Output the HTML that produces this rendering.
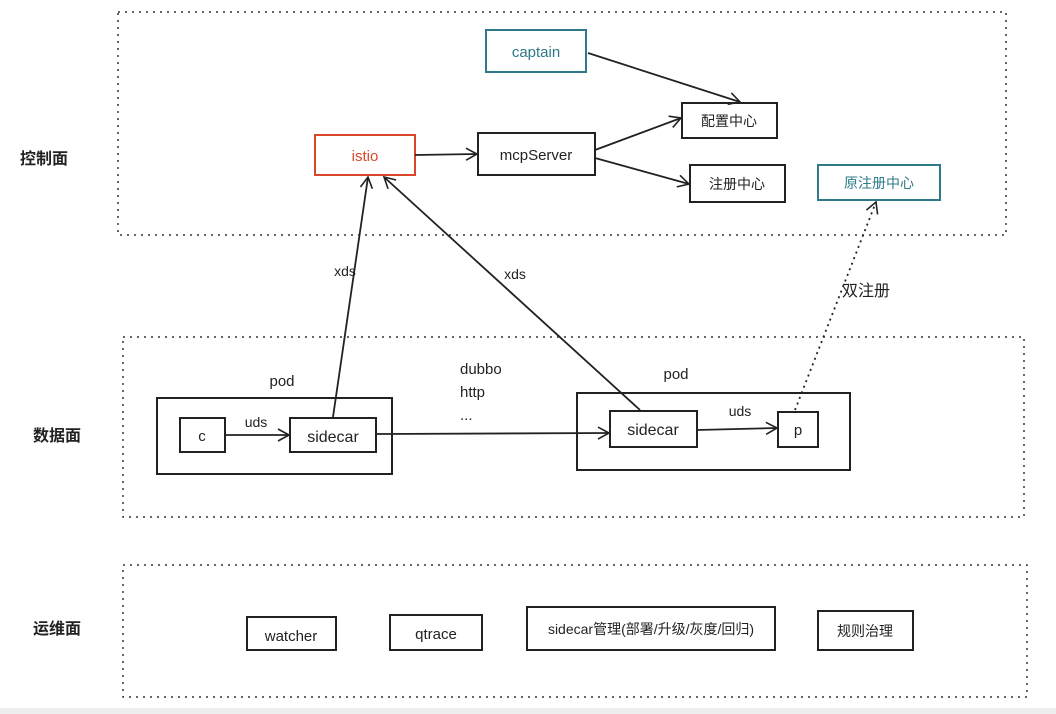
<!DOCTYPE html>
<html><head><meta charset="utf-8"><style>
html,body{margin:0;padding:0;background:#fff;}
svg{display:block;}
text{font-family:"Liberation Sans","Noto Sans CJK SC",sans-serif;}
</style></head><body>
<svg width="1056" height="714" viewBox="0 0 1056 714" xmlns="http://www.w3.org/2000/svg">
<defs>
<marker id="a" markerWidth="14" markerHeight="14" refX="12" refY="7" orient="auto" markerUnits="userSpaceOnUse">
<path d="M1,1 L12,7 L1,13" fill="none" stroke="#222" stroke-width="1.6"/>
</marker>
</defs>
<rect x="0" y="0" width="1056" height="714" fill="#fff"/>
<rect x="0" y="708" width="1056" height="6" fill="#eee"/>
<g fill="none" stroke="#333" stroke-width="1.5" stroke-dasharray="2,5">
<rect x="118" y="12" width="888" height="223"/>
<rect x="123" y="337" width="901" height="180"/>
<rect x="123" y="565" width="904" height="132"/>
</g>
<g font-size="16" fill="#222" font-weight="bold">
<text x="20" y="164">控制面</text>
<text x="33" y="441">数据面</text>
<text x="33" y="634">运维面</text>
</g>
<g fill="none" stroke-width="2">
<rect x="486" y="30" width="100" height="42" stroke="#2e7a8a"/>
<rect x="315" y="135" width="100" height="40" stroke="#d9472b"/>
<rect x="818" y="165" width="122" height="35" stroke="#2e7a8a"/>
<g stroke="#222">
<rect x="478" y="133" width="117" height="42"/>
<rect x="682" y="103" width="95" height="35"/>
<rect x="690" y="165" width="95" height="37"/>
<rect x="157" y="398" width="235" height="76"/>
<rect x="180" y="418" width="45" height="34"/>
<rect x="290" y="418" width="86" height="34"/>
<rect x="577" y="393" width="273" height="77"/>
<rect x="610" y="411" width="87" height="36"/>
<rect x="778" y="412" width="40" height="35"/>
<rect x="247" y="617" width="89" height="33"/>
<rect x="390" y="615" width="92" height="35"/>
<rect x="527" y="607" width="248" height="43"/>
<rect x="818" y="611" width="95" height="39"/>
</g>
</g>
<g stroke="#222" stroke-width="1.8" fill="none" marker-end="url(#a)">
<line x1="415" y1="155" x2="477" y2="154"/>
<line x1="595" y1="150" x2="681" y2="118"/>
<line x1="595" y1="158" x2="689" y2="184"/>
<line x1="588" y1="53" x2="740" y2="102"/>
<line x1="333" y1="417" x2="368" y2="177"/>
<line x1="640" y1="410" x2="384" y2="177"/>
<line x1="376" y1="434" x2="609" y2="433"/>
<line x1="225" y1="435" x2="289" y2="435"/>
<line x1="697" y1="430" x2="777" y2="428"/>
<line x1="795" y1="410" x2="876" y2="202" stroke-dasharray="2,4"/>
</g>
<g font-size="15" text-anchor="middle" fill="#222">
<text x="536" y="57" fill="#2e7a8a">captain</text>
<text x="365" y="161" fill="#d9472b">istio</text>
<text x="879" y="188" fill="#2e7a8a" font-size="14">原注册中心</text>
<text x="536" y="160">mcpServer</text>
<text x="729" y="126" font-size="14">配置中心</text>
<text x="737" y="189" font-size="14">注册中心</text>
<text x="202" y="441">c</text>
<text x="333" y="442" font-size="16">sidecar</text>
<text x="653" y="435" font-size="16">sidecar</text>
<text x="798" y="435">p</text>
<text x="291" y="641">watcher</text>
<text x="436" y="639">qtrace</text>
<text x="651" y="634" font-size="14">sidecar管理(部署/升级/灰度/回归)</text>
<text x="865" y="636" font-size="14">规则治理</text>
<text x="282" y="386">pod</text>
<text x="676" y="379">pod</text>
<text x="256" y="427" font-size="14">uds</text>
<text x="740" y="416" font-size="14">uds</text>
<text x="345" y="276" font-size="14">xds</text>
<text x="515" y="279" font-size="14">xds</text>
<text x="866" y="296" font-size="16">双注册</text>
</g>
<g font-size="15" fill="#222">
<text x="460" y="374">dubbo</text>
<text x="460" y="397">http</text>
<text x="460" y="420">...</text>
</g>
</svg>
</body></html>
